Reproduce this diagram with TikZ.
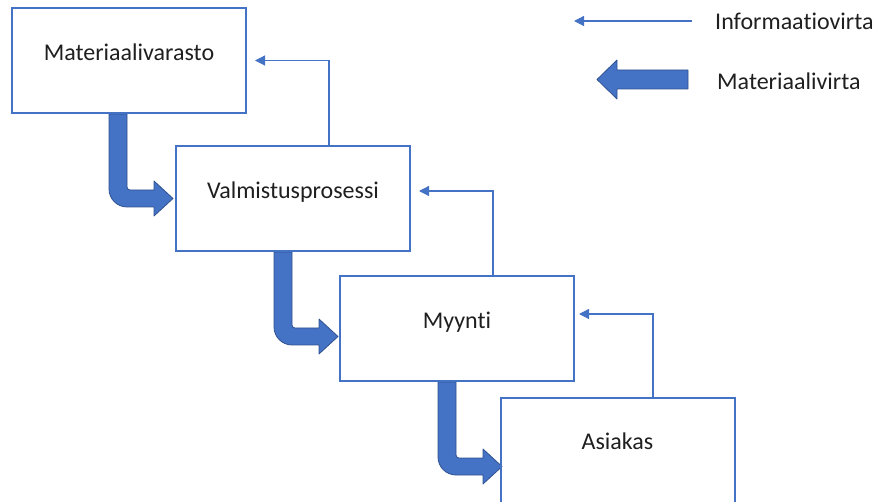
\documentclass[tikz,border=0pt]{standalone}
\usepackage{fontspec}
\setmainfont{Carlito}[Ligatures={NoCommon}]
\usetikzlibrary{arrows.meta,calc,backgrounds}
\definecolor{accent}{HTML}{4472C4}
\definecolor{accentdark}{HTML}{2F528F}
\definecolor{ink}{HTML}{1F1F1F}

\begin{document}
\begin{tikzpicture}[x=1pt,y=1pt,
  stage/.style={draw=accent, line width=2pt, minimum width=234pt, minimum height=105pt, inner sep=0pt},
  caption/.style={font=\fontsize{24}{28}\selectfont, text=ink, inner sep=0pt},
  infoflow/.style={draw=accent, line width=1.2pt, -{Triangle[length=10pt,width=10pt]}},
  matflow/.style={fill=accent, draw=accentdark, line width=0.8pt, line join=round},
  % bent block arrow: shaft down from the origin, turning right into the next stage
  bentflow/.pic={
    \path[matflow] (0,0) -- (0,-75) arc[start angle=180,end angle=270,radius=18pt]
      -- (45,-93) -- (45,-102) -- (64,-84.5) -- (45,-67) -- (45,-76) -- (21,-76)
      arc[start angle=270,end angle=180,radius=3pt] -- (18,0) -- cycle;
  },
  % straight block arrow pointing left, tail at the origin
  leftflow/.pic={
    \path[matflow] (0,9.5) -- (-71,9.5) -- (-71,19.5) -- (-91,0) -- (-71,-19.5)
      -- (-71,-9.5) -- (0,-9.5) -- cycle;
  }]
\useasboundingbox (0,0) rectangle (878,-502);

% process stages
\node[stage] (b1) at (129,-60.5) {};
\node[stage] (b2) at (293,-198.5) {};
\node[stage] (b3) at (457,-328.5) {};
\node[stage, minimum height=112pt] (b4) at (617.5,-454) {};

\node[caption, anchor=base] (t1) at (b1.center) {Materiaalivarasto};
\node[caption, anchor=base] (t2) at (b2.center) {Valmistusprosessi};
\node[caption, anchor=base] (t3) at (b3.center) {Myynti};
\node[caption, anchor=base] (t4) at ($(b4.north)+(0,-52.5)$) {Asiakas};

% material flow, drawn beneath the box outlines
\begin{scope}[on background layer]
  \pic at ($(b1.south)+(-20,0)$) {bentflow};
  \pic at ($(b2.south)+(-19,0)$) {bentflow};
  \pic at ($(b3.south)+(-19,0)$) {bentflow};
\end{scope}

% information flow
\coordinate (i1s) at ($(b2.north)+(36,0)$);
\coordinate (i1e) at ($(b1.east)+(8,0)$);
\coordinate (i2s) at ($(b3.north)+(36,0)$);
\coordinate (i2e) at ($(b2.east)+(8,7.5)$);
\coordinate (i3s) at ($(b4.north)+(35.5,0)$);
\coordinate (i3e) at ($(b3.east)+(4,14.5)$);
\draw[infoflow] (i1s) |- (i1e);
\draw[infoflow] (i2s) |- (i2e);
\draw[infoflow] (i3s) |- (i3e);

% legend
\node[caption, anchor=west] (linfo) at (715,-21) {Informaatiovirta};
\node[caption, anchor=west] (lmat) at (717,-81) {Materiaalivirta};
\coordinate (l1s) at ($(linfo.west)+(-23,0)$);
\coordinate (l1e) at ($(linfo.west)+(-141,0)$);
\draw[infoflow] (l1s) -- (l1e);
\pic at ($(lmat.west)+(-29,1.5)$) {leftflow};
\end{tikzpicture}
\end{document}
